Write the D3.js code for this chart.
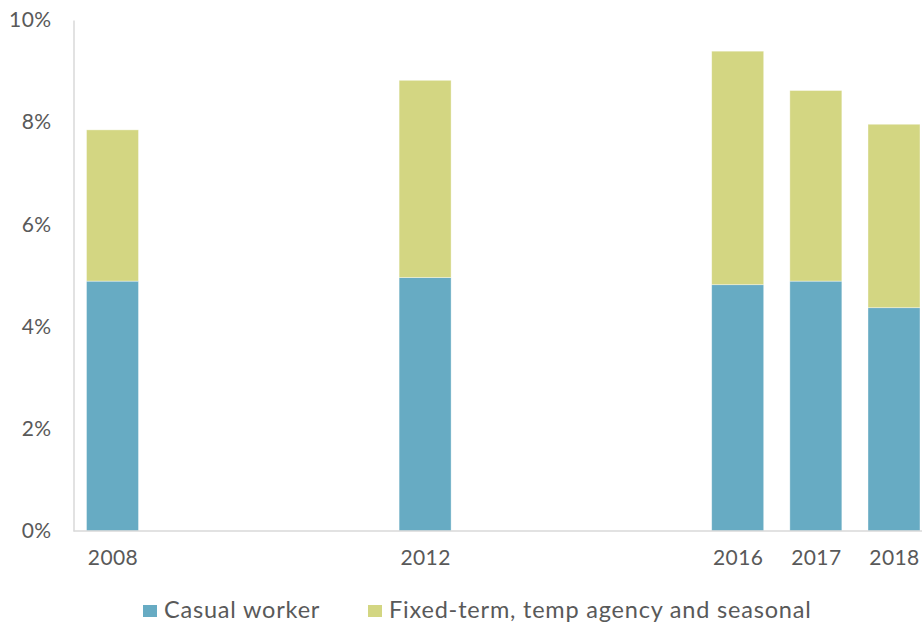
<!DOCTYPE html>
<html>
<head>
<meta charset="utf-8">
<script src="https://cdn.jsdelivr.net/npm/d3@7"></script>
<style>
  body { margin: 0; background: #fff; }
  text { font-family: Lato, "Open Sans", sans-serif; fill: #595959; font-weight: 400; }
</style>
</head>
<body>
<div id="chart"></div>
<script>
// chart data (percent of employees)
const years = [2008, 2012, 2016, 2017, 2018];
const casual = [4.89, 4.96, 4.82, 4.89, 4.37];
const fixedTerm = [2.96, 3.86, 4.57, 3.73, 3.59];
const seriesNames = ['Casual worker', 'Fixed-term, temp agency and seasonal'];
const colors = ['#67ABC3', '#D3D682'];
const yTicks = [0, 2, 4, 6, 8, 10];

const W = 922, H = 627;
const margin = { top: 20, right: 0, bottom: 96, left: 73.5 };
const plotH = H - margin.top - margin.bottom;

const svg = d3.select('#chart')
  .append('svg')
  .attr('width', W)
  .attr('height', H);

// x is linear in years so the gaps between survey years show
const x = d3.scaleLinear()
  .domain([2008, 2018])
  .range([112.5, 894]);
const barW = 52;

const y = d3.scaleLinear()
  .domain([0, 10])
  .range([margin.top + plotH, margin.top]);

const rows = years.map((yr, i) => ({ year: yr, casual: casual[i], fixed: fixedTerm[i] }));
const stacked = d3.stack().keys(['casual', 'fixed'])(rows);

// bars
svg.append('g')
  .selectAll('g')
  .data(stacked)
  .join('g')
  .attr('fill', (d, i) => colors[i])
  .selectAll('rect')
  .data(d => d)
  .join('rect')
  .attr('x', d => x(d.data.year) - barW / 2)
  .attr('width', barW)
  .attr('y', d => y(d[1]))
  .attr('height', d => y(d[0]) - y(d[1]))
  .attr('stroke', '#fff')
  .attr('stroke-opacity', 0.5)
  .attr('stroke-width', 0.75);

// y axis
const yAxis = svg.append('g')
  .attr('transform', `translate(${margin.left},0)`)
  .call(d3.axisLeft(y).tickValues(yTicks).tickFormat(d => d + '%').tickSize(0).tickPadding(22));
yAxis.select('.domain').attr('stroke', '#d9d9d9').attr('stroke-width', 1.5);
yAxis.selectAll('text')
  .style('font-size', '21px')
  .style('letter-spacing', '0.4px')
  .attr('fill', '#595959');

// x axis
const xAxis = svg.append('g')
  .attr('transform', `translate(0,${y(0)})`)
  .call(d3.axisBottom(x).tickValues(years).tickFormat(d3.format('d')).tickSize(0).tickPadding(19));
xAxis.select('.domain').attr('d', `M${margin.left},0H${W}`).attr('stroke', '#d9d9d9').attr('stroke-width', 1.5);
xAxis.selectAll('text')
  .style('font-size', '21px')
  .style('letter-spacing', '0.4px')
  .attr('fill', '#595959');

// legend
const legend = svg.append('g');
const legendX = [143, 368];
seriesNames.forEach((name, i) => {
  legend.append('rect')
    .attr('x', legendX[i])
    .attr('y', 605)
    .attr('width', 14)
    .attr('height', 12)
    .attr('fill', colors[i]);
  legend.append('text')
    .attr('x', legendX[i] + 21)
    .attr('y', 618)
    .style('font-size', '23.5px')
    .style('letter-spacing', '0.8px')
    .text(name);
});
</script>
</body>
</html>
